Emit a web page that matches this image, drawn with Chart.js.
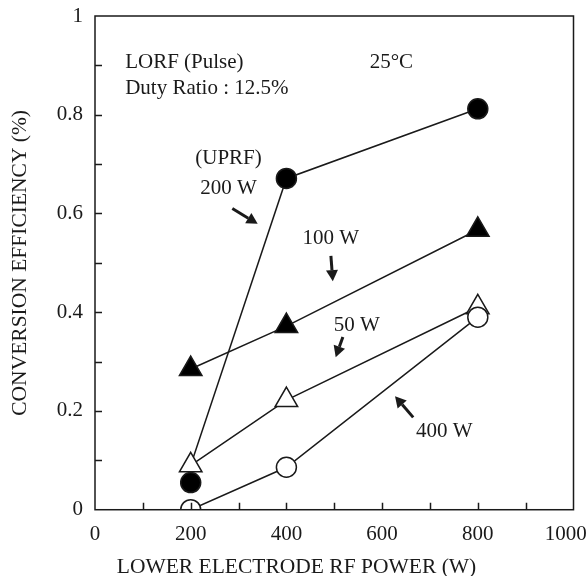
<!DOCTYPE html>
<html>
<head>
<meta charset="utf-8">
<script src="https://cdn.jsdelivr.net/npm/chart.js@4.4.1/dist/chart.umd.min.js"></script>
<style>
  html, body { margin: 0; padding: 0; background: #fff; }
  #wrap { width: 588px; height: 576px; }
</style>
</head>
<body>
<div id="wrap"><canvas id="grafico"></canvas></div>
<script>
// lower electrode RF power (W)
var power = [200, 400, 800];
// conversion efficiency (%) for each upper electrode power
var eff200 = [0.09, 0.671, 0.812];   // line starts at the open triangle
var eff200Alone = [0.055];           // filled circle at 200 W, not joined
var eff100 = [0.285, 0.372, 0.567];
var eff50 = [0.09, 0.222, 0.41];
var eff400 = [0.0, 0.086, 0.39];

var xTicks = [0, 100, 200, 300, 400, 500, 600, 700, 800, 900, 1000];
var xLabels = ['0', '', '200', '', '400', '', '600', '', '800', '', '1000   '];
var yTicks = [0, 0.1, 0.2, 0.3, 0.4, 0.5, 0.6, 0.7, 0.8, 0.9, 1];
var yLabels = ['0', '', '0.2', '', '0.4', '', '0.6', '', '0.8', '', '1'];

// annotations: text at data coords, arrows from tail to head
var notas = [
    { text: 'LORF (Pulse)', x: 63, y: 0.905, align: 'left' },
    { text: 'Duty Ratio : 12.5%', x: 63, y: 0.854, align: 'left' },
    { text: '25\u00B0C', x: 574, y: 0.905, align: 'left' },
    { text: '(UPRF)', x: 279, y: 0.711, align: 'center' },
    { text: '200 W', x: 279, y: 0.650, align: 'center' },
    { text: '100 W', x: 493, y: 0.549, align: 'center' },
    { text: '50 W', x: 547, y: 0.374, align: 'center' },
    { text: '400 W', x: 730, y: 0.159, align: 'center' }
];
var setas = [
    { x1: 287, y1: 0.610, x2: 340, y2: 0.579 },
    { x1: 493, y1: 0.514, x2: 497, y2: 0.463 },
    { x1: 518, y1: 0.350, x2: 503, y2: 0.309 },
    { x1: 665, y1: 0.187, x2: 627, y2: 0.230 }
];

var FONTE = '"Liberation Serif", "Times New Roman", serif';
var COR = '#1a1a1a';

function pontos(ys) {
    return ys.map(function(y, i) { return { x: power[i], y: y }; });
}

var molduraPlugin = {
    id: 'moldura',
    afterDraw: function(chart) {
        var ctx = chart.ctx;
        var a = chart.chartArea;
        var sx = chart.scales.x, sy = chart.scales.y;
        ctx.save();
        ctx.strokeStyle = COR;
        ctx.lineWidth = 1.5;
        ctx.strokeRect(a.left, a.top, a.right - a.left, a.bottom - a.top);
        ctx.beginPath();
        xTicks.forEach(function(v, i) {
            if (i === 0 || i === xTicks.length - 1) return;
            var px = Math.round(sx.getPixelForValue(v)) + 0.5;
            ctx.moveTo(px, a.bottom);
            ctx.lineTo(px, a.bottom - 7);
        });
        yTicks.forEach(function(v, i) {
            if (i === 0 || i === yTicks.length - 1) return;
            var py = Math.round(sy.getPixelForValue(v)) + 0.5;
            ctx.moveTo(a.left, py);
            ctx.lineTo(a.left + 7, py);
        });
        ctx.stroke();

        ctx.fillStyle = COR;
        ctx.font = '21px ' + FONTE;
        ctx.textBaseline = 'middle';
        notas.forEach(function(n) {
            ctx.textAlign = n.align;
            ctx.fillText(n.text, sx.getPixelForValue(n.x), sy.getPixelForValue(n.y));
        });

        setas.forEach(function(s) {
            var x1 = sx.getPixelForValue(s.x1), y1 = sy.getPixelForValue(s.y1);
            var x2 = sx.getPixelForValue(s.x2), y2 = sy.getPixelForValue(s.y2);
            var ang = Math.atan2(y2 - y1, x2 - x1);
            var head = 11, meia = 6;
            var bx = x2 - Math.cos(ang) * head, by = y2 - Math.sin(ang) * head;
            ctx.lineWidth = 3;
            ctx.beginPath();
            ctx.moveTo(x1, y1);
            ctx.lineTo(bx, by);
            ctx.stroke();
            ctx.beginPath();
            ctx.moveTo(x2, y2);
            ctx.lineTo(bx - Math.sin(ang) * meia, by + Math.cos(ang) * meia);
            ctx.lineTo(bx + Math.sin(ang) * meia, by - Math.cos(ang) * meia);
            ctx.closePath();
            ctx.fill();
        });
        ctx.restore();
    }
};

var linha = { borderColor: COR, borderWidth: 1.5, tension: 0, pointBorderColor: COR, pointBorderWidth: 1.5 };

var chartEficiencia = new Chart(document.getElementById('grafico').getContext('2d'), {
    type: 'line',
    data: {
        datasets: [
            Object.assign({ label: '400 W', data: pontos(eff400), pointStyle: 'circle', pointRadius: 10,
                pointBackgroundColor: '#fff' }, linha),
            Object.assign({ label: '50 W', data: pontos(eff50), pointStyle: 'triangle', pointRadius: 13,
                pointBackgroundColor: '#fff' }, linha),
            Object.assign({ label: '200 W', data: pontos(eff200), pointStyle: 'circle', pointRadius: [0, 10, 10],
                pointBackgroundColor: '#000' }, linha),
            Object.assign({ label: '200 W (200)', data: pontos(eff200Alone), showLine: false, pointStyle: 'circle',
                pointRadius: 10, pointBackgroundColor: '#000' }, linha),
            Object.assign({ label: '100 W', data: pontos(eff100), pointStyle: 'triangle', pointRadius: 13,
                pointBackgroundColor: '#000' }, linha)
        ]
    },
    options: {
        responsive: true,
        maintainAspectRatio: false,
        animation: false,
        events: [],
        layout: { padding: { left: 10, right: 5, top: 16, bottom: 0 } },
        plugins: {
            legend: { display: false },
            tooltip: { enabled: false },
            title: {
                display: true, position: 'bottom', text: 'LOWER ELECTRODE RF POWER (W)', color: COR,
                font: { family: FONTE, size: 21.5, weight: 'normal', lineHeight: 0.85 },
                padding: { top: 0, bottom: 0 }
            }
        },
        scales: {
            x: {
                type: 'linear', min: 0, max: 1000,
                afterBuildTicks: function(s) { s.ticks = xTicks.map(function(v) { return { value: v }; }); },
                afterFit: function(s) { s.height = 48; s.paddingLeft = 0; s.paddingRight = 10; },
                grid: { display: false, drawTicks: false },
                border: { display: false },
                ticks: {
                    autoSkip: false, maxRotation: 0, padding: 12, color: COR,
                    font: { family: FONTE, size: 21 },
                    callback: function(v, i) { return xLabels[i]; }
                }
            },
            y: {
                type: 'linear', min: 0, max: 1,
                afterBuildTicks: function(s) { s.ticks = yTicks.map(function(v) { return { value: v }; }); },
                afterFit: function(s) { s.width = 85; s.paddingTop = 0; s.paddingBottom = 0; },
                grid: { display: false, drawTicks: false },
                border: { display: false },
                ticks: {
                    autoSkip: false, padding: 12, color: COR,
                    font: { family: FONTE, size: 21 },
                    callback: function(v, i) { return yLabels[i]; }
                },
                title: {
                    display: true, text: 'CONVERSION EFFICIENCY (%)', color: COR,
                    font: { family: FONTE, size: 21.5, lineHeight: 1 }, padding: { top: 0, bottom: 0 }
                }
            }
        }
    },
    plugins: [molduraPlugin]
});
</script>
</body>
</html>
